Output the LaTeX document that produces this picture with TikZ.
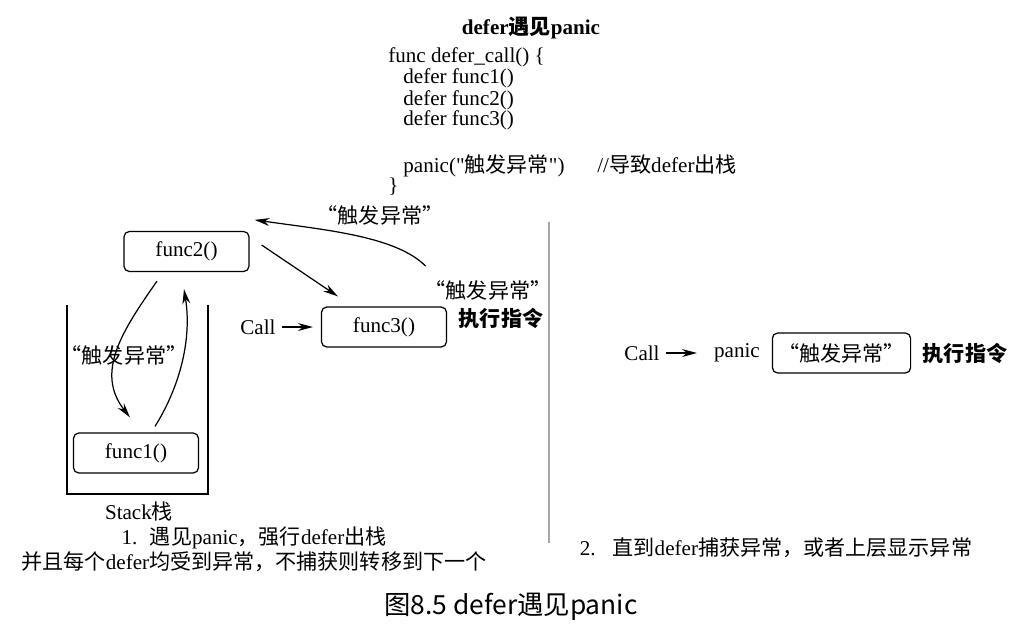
\documentclass[tikz,border=0pt]{standalone}
\usepackage{fontspec}
\setmainfont{Liberation Serif}
\newfontfamily\cjk{Noto Sans CJK SC}
\newcommand{\zh}[1]{{\cjk #1}}
\usetikzlibrary{arrows.meta}

\tikzset{
	funcbox/.style={draw, rounded corners=3pt, minimum width=2.5cm, minimum height=0.8cm, line width=0.7pt},
	arr/.style={-{Stealth[length=8.5pt,width=4.5pt]}, line width=0.7pt},
	codeline/.style={anchor=base west, inner sep=0pt},
}

\begin{document}
\begin{tikzpicture}[x=0.02cm, y=-0.02cm, font=\fontsize{12}{14}\selectfont]
	\useasboundingbox (0,0) rectangle (1020,637);
	% code on top
	\node (title) at (531,28) {\bfseries defer\zh{遇见}panic};
	\node[codeline] (c1) at (388,62) {func defer\_call() \{};
	\node[codeline] (c2) at (403,83) {defer func1()};
	\node[codeline] (c3) at (403,105) {defer func2()};
	\node[codeline] (c4) at (403,125) {defer func3()};
	\node[codeline] (c5) at (403,172) {panic(\textquotedbl\zh{触发异常}\textquotedbl)};
	\node[codeline] (c6) at (597,172) {//\zh{导致}defer\zh{出栈}};
	\node[codeline] (c7) at (388,192) {\}};
	% left: the stack
	\node[funcbox] (func2) at (186.5,251.5) {func2()};
	\node[funcbox] (func3) at (384,327) {func3()};
	\node[funcbox] (func1) at (136,453) {func1()};
	\node (call) at (258,327) {Call};
	\node (exctop) at (380,215) {\zh{“触发异常”}};
	\node (exc) at (488,290) {\zh{“触发异常”}};
	\node (cmd) at (501,318) {\zh{\bfseries 执行指令}};
	\node (excleft) at (124,355) {\zh{“触发异常”}};
	\draw[line width=0.7pt] (67,305) -- (67,494) -- (208,494) -- (208,305);
	\node (stack) at (139,511) {Stack\zh{栈}};
	\node (note1) at (254,538) {1.\hspace{0.6em}\zh{遇见}panic\zh{，强行}defer\zh{出栈}};
	\node (note2) at (254,562) {\zh{并且每个}defer\zh{均受到异常，不捕获则转移到下一个}};
	\draw[arr, shorten >=0.16cm] (call) -- (func3);
	\draw[arr] ([shift={(12,-6.5)}]func2.east) -- ([shift={(17,-10)}]func3.north west);
	\draw[arr] ([shift={(7,-8)}]exc.north west) .. controls +(-30,-30) and +(70,10) .. ([shift={(5,-11)}]func2.north east);
	\draw[arr] ([shift={(-29.5,9)}]func2.south) .. controls +(-35,50) and +(-35,-45) .. ([shift={(-6,-15)}]func1.north);
	\draw[arr] ([shift={(19,-6)}]func1.north) .. controls +(25,-40) and +(8,50) .. ([shift={(-2.5,17)}]func2.south);
	% right: panic
	\draw[gray!70, line width=0.8pt] (549,222) -- (549,543);
	\node (call2) at (642,353) {Call};
	\node (panic) at (737,353) {panic};
	\node[funcbox] (exc2) at (841.5,353) {\zh{“触发异常”}};
	\node (cmd2) at (965,353) {\zh{\bfseries 执行指令}};
	\draw[arr, shorten >=0.22cm] (call2) -- (panic);
	\node (note3) at (776,548) {2.\hspace{0.8em}\zh{直到}defer\zh{捕获异常，或者上层显示异常}};
	\node[font=\cjk\fontsize{15}{18}\selectfont] (caption) at (511,607) {图8.5 defer遇见panic};
\end{tikzpicture}
\end{document}
